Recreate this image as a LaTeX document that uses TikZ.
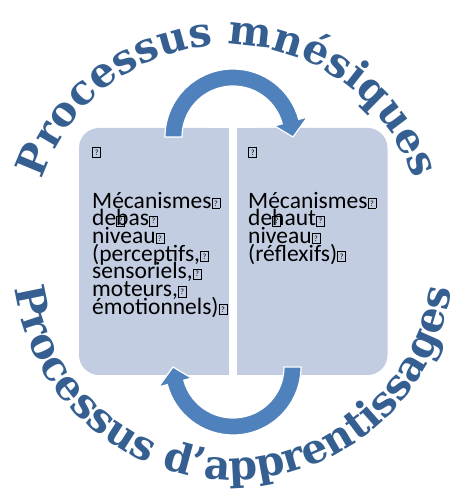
\documentclass[tikz,border=0pt]{standalone}
\usepackage{fontspec}
\usepackage{xcolor}
\usetikzlibrary{decorations.text}
\setmainfont{Carlito}
\newfontfamily\arcfont{DejaVu Serif}
\definecolor{boxfill}{RGB}{195,205,226}
\definecolor{arrowblue}{RGB}{79,129,189}
\definecolor{titleblue}{RGB}{53,95,145}
\newcommand{\qbox}{{\setlength{\fboxsep}{0pt}\setlength{\fboxrule}{0.7pt}\fbox{\parbox[b][9.5pt][c]{7.5pt}{\centering\fontsize{8}{8}\selectfont ?}}}}
\newcommand{\arctitlefont}{\arcfont\bfseries\fontsize{41}{41}\selectfont}
\newcommand{\boxfont}{\fontsize{23.5}{17.7}\selectfont\setlength{\lineskiplimit}{-20pt}}

\tikzset{
	box/.style={fill=boxfill, rounded corners=20pt, minimum width=150pt, minimum height=247pt, inner sep=0pt},
	boxtext/.style={anchor=north west, align=left, inner sep=0pt, font={\boxfont}},
	bentarrow/.style={fill=arrowblue, draw=white, line width=1.2pt},
	arctitle/.style={decorate, decoration={text along path, text align=center, text color=titleblue, text={|\arctitlefont|#1}}}
}

\begin{document}
\begin{tikzpicture}[x=1pt, y=1pt]
				\useasboundingbox (0,0) rectangle (454,495);
				
				%Boxes
				\node[box] (low) at (154,243.5) {};
				\fill[boxfill] (low.north) rectangle (low.south east);
				\node[box] (high) at (312.5,243.5) {};
				\fill[boxfill] (high.north west) rectangle (high.south);
				
				%Box texts
				\node[boxtext] (lowtxt) at (92,348) {\qbox\\[33pt] Mécanismes\qbox\\ de\rlap{\qbox}bas\qbox\\ niveau\qbox\\ (perceptifs,\qbox\\ sensoriels,\qbox\\ moteurs,\qbox\\ émotionnels)\qbox};
				\node[boxtext] (hightxt) at (248,348) {\qbox\\[33pt] Mécanismes\qbox\\ de\rlap{\qbox}haut\qbox\\ niveau\qbox\\ (réflexifs)\qbox};
				
				%Arrows
				\coordinate (upc) at (233,358);
				\coordinate (downc) at (233,128);
				\begin{scope}[shift={(upc)}]
					\filldraw[bentarrow] (180:68) arc[start angle=180, end angle=15, radius=68] -- (15:77) -- (0:60) -- (15:43) -- (15:51) arc[start angle=15, end angle=180, radius=51] -- cycle;
				\end{scope}
				\begin{scope}[shift={(downc)}]
					\filldraw[bentarrow] (0:68) arc[start angle=0, end angle=-165, radius=68] -- (-165:77) -- (180:60) -- (-165:43) -- (-165:51) arc[start angle=-165, end angle=0, radius=51] -- cycle;
				\end{scope}
				
				%Titles
				\coordinate (topc) at (228,255);
				\coordinate (botc) at (233,235);
				\path[shift={(topc)}, arctitle={Processus mnésiques}] (175:195) arc[start angle=175, end angle=5, radius=195];
				\path[shift={(botc)}, arctitle={Processus d’apprentissages}] (176:220) arc[start angle=176, end angle=364, radius=220];
			\end{tikzpicture}
\end{document}
